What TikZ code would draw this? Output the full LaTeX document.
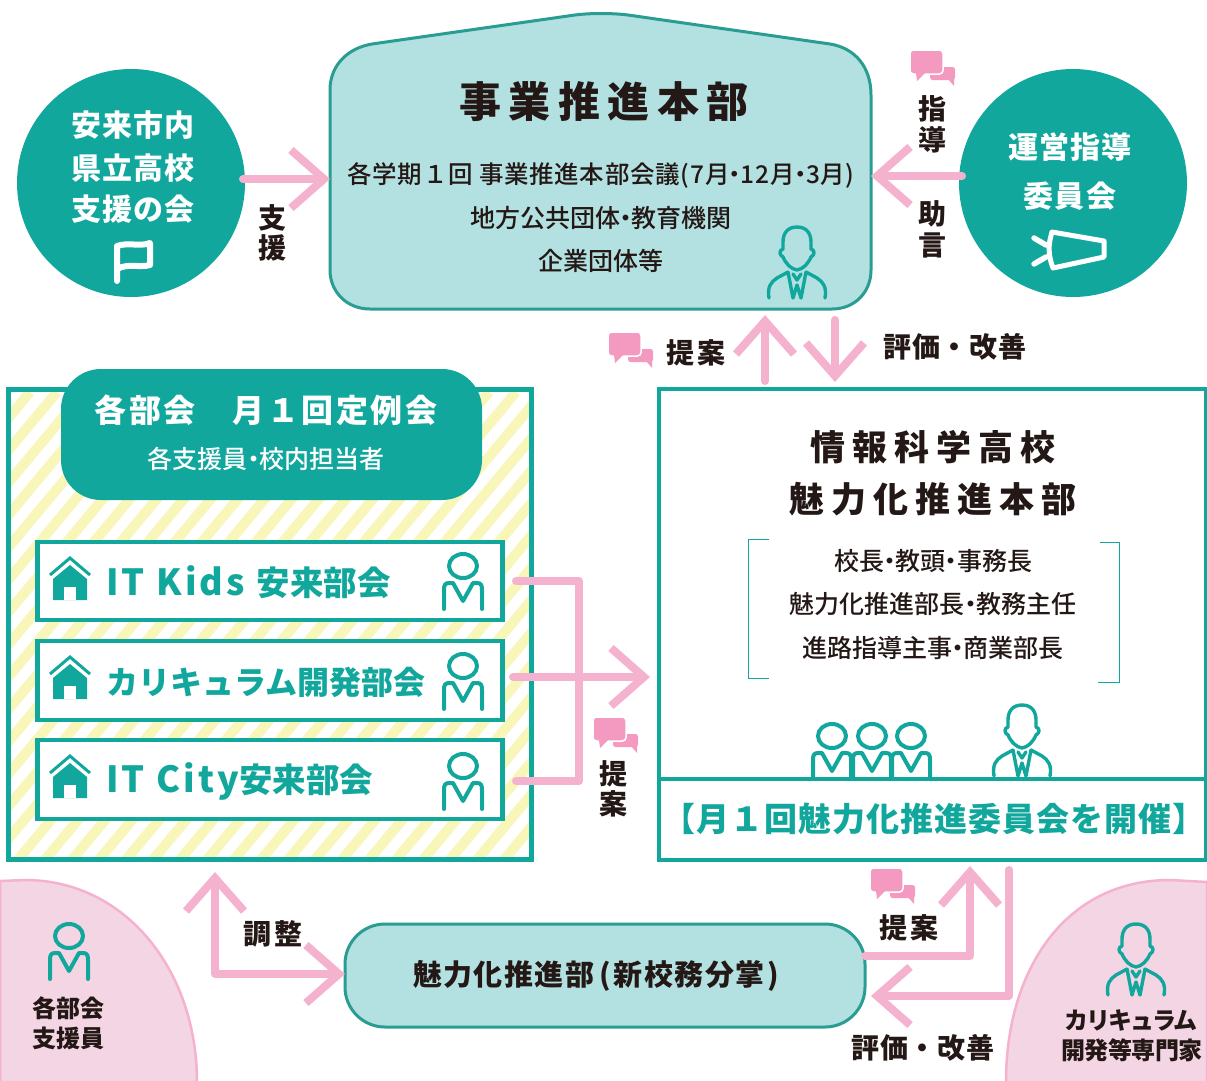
\documentclass[tikz,border=0pt]{standalone}
\usepackage{fontspec}
\usetikzlibrary{arrows.meta}
\setmainfont{Noto Sans CJK JP}
\newfontfamily\hv{Noto Sans CJK JP Black}
\newfontfamily\md{Noto Sans CJK JP Medium}
\newcommand\nd{\hspace{-.27em}・\hspace{-.27em}}
\newcommand\reg[3]{\md\fontsize{#1}{#1}\selectfont\addfontfeature{LetterSpace=#2}#3}
\newcommand\bld[3]{\fontsize{#1}{#1}\selectfont\bfseries\addfontfeature{LetterSpace=#2}#3}
\newcommand\blk[3]{\hv\fontsize{#1}{#1}\selectfont\addfontfeature{LetterSpace=#2}#3}
\definecolor{teal1}{HTML}{12A79D}
\definecolor{teal2}{HTML}{2A9D92}
\definecolor{aqua}{HTML}{B3E0E0}
\definecolor{pinkl}{HTML}{F5B2CF}
\definecolor{pinkc}{HTML}{F49AC1}
\definecolor{pinkb}{HTML}{F4D5E4}
\definecolor{stripe}{HTML}{F9F6B9}
\definecolor{ink}{HTML}{231815}
\tikzset{
  x=1pt,y=-1pt,
  txt/.style={inner sep=0,outer sep=0,text=ink,anchor=center},
  wtxt/.style={inner sep=0,outer sep=0,text=white,anchor=center},
  ttxt/.style={inner sep=0,outer sep=0,text=teal1,anchor=center},
  band/.style={draw=teal1,line width=4.5pt,fill=white,inner sep=0,outer sep=0},
  pinkline/.style={draw=pinkl,line width=8pt,line join=round,line cap=round},
  barb/.style={-{Straight Barb[length=33pt,width=58pt,line width=8pt,line join=miter,line cap=butt]}},
  barbb/.style={{Straight Barb[length=33pt,width=58pt,line width=8pt,line join=miter,line cap=butt]}-{Straight Barb[length=33pt,width=58pt,line width=8pt,line join=miter,line cap=butt]}},
  pics/person/.style={code={
    \draw[teal1,line width=4pt,line cap=round,line join=round]
      (0,0) ellipse [x radius=14pt,y radius=12pt]
      (-19,43)--(-19,24) .. controls (-19,19) and (-18,17) .. (-14,17)--(-10,17)--(0,35)--(10,17)--(14,17) .. controls (18,17) and (19,19) .. (19,24)--(19,43);
  }},
  pics/suitman/.style={code={
    \draw[teal1,line width=3.4pt,line join=round,line cap=round]
      (0,0) .. controls (10,0) and (14,7) .. (14,15) -- (14,22) .. controls (18,23) and (18,28) .. (14,30) .. controls (11,37) and (6,42) .. (0,43)
      .. controls (-6,42) and (-11,37) .. (-14,30) .. controls (-18,28) and (-18,23) .. (-14,22) -- (-14,15) .. controls (-14,7) and (-10,0) .. (0,0)
      (-28,71) .. controls (-30,60) and (-26,55) .. (-20,51) -- (-9,45)
      (28,71) .. controls (30,60) and (26,55) .. (20,51) -- (9,45)
      (-9,45) -- (-4,71) -- (0,58) -- (4,71) -- (9,45)
      (-4,47) -- (0,53) -- (4,47);
  }},
  pics/chat/.style={code={
    \fill[pinkc,rounded corners=2.5pt] (20,17) rectangle (45,30);
    \fill[pinkc] (38,29) -- (44,36) -- (44,29) -- cycle;
    \fill[pinkc,draw=white,line width=1.5pt,rounded corners=3.5pt] (0,0) rectangle (33,24);
    \fill[pinkc] (6,23) -- (7,31) -- (15,23) -- cycle;
  }},
  pics/house/.style={code={
    \draw[teal1,line width=3pt] (-20,17) -- (0,0) -- (20,17);
    \fill[teal1] (0,7) -- (17,21) -- (17,42) -- (-17,42) -- (-17,21) -- cycle;
    \fill[white] (-6,29) rectangle (6,42);
  }},
}
\begin{document}
\begin{tikzpicture}
\useasboundingbox (0,0) rectangle (1207,1080);
\fill[white] (0,0) rectangle (1207,1080);

% pink corners
\filldraw[fill=pinkb,draw=pinkl,line width=2.5pt] (0,881) -- (25,880) .. controls (125,880) and (197,970) .. (197,1082) -- (0,1082) -- cycle;
\filldraw[fill=pinkb,draw=pinkl,line width=2.5pt] (1207,882) -- (1170,880) .. controls (1065,880) and (1006,970) .. (1006,1082) -- (1207,1082) -- cycle;

% top house
\filldraw[fill=aqua,draw=teal2,line width=3pt]
 (330,90) .. controls (330,65) and (348,48) .. (372,44) -- (575,15) .. controls (590,13) and (612,13) .. (628,15) -- (830,44)
 .. controls (855,48) and (871,67) .. (871,95) -- (871,270) .. controls (871,292) and (855,309) .. (832,309) -- (370,309)
 .. controls (347,309) and (330,292) .. (330,270) -- cycle;
\node[inner sep=0,outer sep=0,minimum width=541pt,minimum height=265pt] (honbu) at (600.5,176.5) {};
\node[txt] (t1) at (604,102) {\blk{42}{18}{事業推進本部}};
\node[txt] (t2) at (601,175) {\reg{24.5}{3}{各学期１回 事業推進本部会議(7月\nd 12月\nd 3月)}};
\node[txt] (t3) at (601,218) {\reg{25}{0}{地方公共団体\nd 教育機関}};
\node[txt] (t4) at (601,261) {\reg{25}{0}{企業団体等}};
\pic at (797,227) {suitman};

% circles
\node[circle,fill=teal1,minimum size=228pt,inner sep=0,outer sep=0] (cl) at (131,183) {};
\node[circle,fill=teal1,minimum size=228pt,inner sep=0,outer sep=0] (cr) at (1073,183) {};
\node[wtxt] (cl1) at (133,125) {\blk{30}{4}{安来市内}};
\node[wtxt] (cl2) at (133,168) {\blk{30}{4}{県立高校}};
\node[wtxt] (cl3) at (133,209) {\blk{30}{4}{支援の会}};
\draw[white,line width=6pt,line cap=round,line join=round] (117,281) -- (117,246) .. controls (128,242) and (140,247) .. (150,243) -- (150,265) .. controls (140,268) and (128,263) .. (117,269);
\node[wtxt] (cr1) at (1070,147) {\blk{30}{4}{運営指導}};
\node[wtxt] (cr2) at (1070,196) {\blk{30}{4}{委員会}};
\draw[white,line width=5pt,line cap=round,line join=round] (1052,232) .. controls (1048,245) and (1048,255) .. (1053,268) -- (1104,257) -- (1104,241) -- cycle;
\draw[white,line width=5.5pt,line cap=round] (1034,238) -- (1046,245) (1034,264) -- (1046,257);

% left panel
\node[draw=teal1,line width=5pt,fill=white,inner sep=0,outer sep=0,minimum width=523pt,minimum height=470pt] (panel) at (270,624.5) {};
\begin{scope}
\clip (10,391) rectangle (530,858);
\foreach \s in {-416,-389,...,540} \draw[stripe,line width=10pt] (\s,862) -- (\s+392,392);
\end{scope}
\draw[teal1,line width=5pt] (panel.north west) rectangle (panel.south east);
\node[fill=teal1,rounded corners=40pt,minimum width=421pt,minimum height=131pt,inner sep=0,outer sep=0] (tab) at (271.5,434.5) {};
\node[wtxt] (tab1) at (266,410) {\blk{32}{8}{各部会　月１回定例会}};
\node[wtxt] (tab2) at (266,459) {\reg{25}{0}{各支援員\nd 校内担当者}};

\node[band,minimum width=465pt,minimum height=78pt] (b1) at (270,581) {};
\node[band,minimum width=465pt,minimum height=79pt] (b2) at (270,680.5) {};
\node[band,minimum width=465pt,minimum height=79pt] (b3) at (270,779.5) {};
\node[ttxt,anchor=west] (b1t) at (106,582) {\blk{36}{9}{IT Kids }\blk{33.5}{0}{安来部会}};
\node[ttxt,anchor=west] (b2t) at (106,682) {\blk{32}{0}{カリキュラム開発部会}};
\node[ttxt,anchor=west] (b3t) at (106,781) {\blk{36}{9}{IT City}\blk{33.5}{0}{安来部会}};
\pic at (70,558) {house};
\pic at (70,657) {house};
\pic at (70,756) {house};
\pic at (463,566) {person};
\pic at (463,666) {person};
\pic at (463,766) {person};

% right panel
\node[draw=teal1,line width=4pt,fill=white,inner sep=0,outer sep=0,minimum width=547pt,minimum height=471pt] (rpanel) at (932.5,624.5) {};
\coordinate (dl) at (rpanel.west |- 0,779);
\coordinate (dr) at (rpanel.east |- 0,779);
\draw[teal1,line width=4pt] (dl) -- (dr);
\node[txt] (r1) at (933,447) {\blk{35}{20}{情報科学高校}};
\node[txt] (r2) at (933,499) {\blk{35}{20}{魅力化推進本部}};
\draw[teal1,line width=1pt] (769,539) -- (748,539) -- (748,678) -- (769,678);
\draw[teal1,line width=1pt] (1100,542) -- (1119,542) -- (1119,682) -- (1098,682);
\node[txt] (r3) at (933,561) {\reg{25}{0}{校長\nd 教頭\nd 事務長}};
\node[txt] (r4) at (933,604) {\reg{25}{0}{魅力化推進部長\nd 教務主任}};
\node[txt] (r5) at (933,648) {\reg{25}{0}{進路指導主事\nd 商業部長}};
\pic at (832,736) {person};
\pic at (872,736) {person};
\pic at (911,736) {person};
\pic at (1022,705) {suitman};
\node[ttxt] (r6) at (934,819) {\blk{33}{3}{【月１回魅力化推進委員会を開催】}};

% bottom box
\node[draw=teal2,fill=aqua,line width=3pt,rounded corners=40pt,minimum width=520pt,minimum height=103pt,inner sep=0,outer sep=0] (bot) at (605,975.5) {};
\node[txt,anchor=west] (bott) at (413,976) {\blk{29}{5}{魅力化推進部\hspace{5pt}(\hspace{3pt}新校務分掌\hspace{3pt})}};

% corner texts
\pic at (69,936) {person};
\node[txt] (pl1) at (68,1008) {\blk{24}{0}{各部会}};
\node[txt] (pl2) at (68,1038) {\blk{24}{0}{支援員}};
\pic at (1136,924) {suitman};
\node[txt] (pr1) at (1131,1020) {\blk{24}{-8}{カリキュラム}};
\node[txt] (pr2) at (1132,1050) {\blk{24}{-2}{開発等専門家}};

% connectors
\coordinate (a1) at (243,179);
\coordinate (a1e) at (honbu.west |- 0,179);
\draw[pinkline,barb] (a1) -- (a1e);
\coordinate (a2) at (962,176);
\coordinate (a2e) at (871,176);
\draw[pinkline,barb] (a2) -- (a2e);
\coordinate (a3) at (765,381);
\coordinate (a3e) at (765,315);
\draw[pinkline,barb] (a3) -- (a3e);
\coordinate (a4) at (835,320);
\coordinate (a4e) at (835,382);
\draw[pinkline,barb] (a4) -- (a4e);
\coordinate (e1) at (516,581);
\coordinate (e2) at (516,781);
\coordinate (e3) at (579,581);
\coordinate (e4) at (579,781);
\draw[pinkline] (e1) -- (e3) -- (e4) -- (e2);
\coordinate (e5) at (513,677);
\coordinate (e6) at (650,677);
\draw[pinkline,barb] (e5) -- (e6);
\coordinate (f1) at (215,872);
\coordinate (f2) at (215,974);
\coordinate (f3) at (bot.west |- 0,974);
\draw[pinkline,barbb] (f1) -- (f2) -- (f3);
\coordinate (g1) at (bot.east |- 0,956);
\coordinate (g2) at (970,956);
\coordinate (g3) at (970,866);
\draw[pinkline,barb] (g1) -- (g2) -- (g3);
\coordinate (h1) at (1009,870);
\coordinate (h2) at (1009,996);
\coordinate (h3) at (871,996);
\draw[pinkline,barb] (h1) -- (h2) -- (h3);

% labels
\node[txt] (l1) at (272,218) {\bld{28}{0}{支}};
\node[txt] (l2) at (272,248) {\bld{28}{0}{援}};
\node[txt] (l3) at (932,109) {\bld{28}{0}{指}};
\node[txt] (l4) at (932,140) {\bld{28}{0}{導}};
\node[txt] (l5) at (932,214) {\bld{28}{0}{助}};
\node[txt] (l6) at (932,245) {\bld{28}{0}{言}};
\node[txt] (l7) at (696,353) {\bld{28}{8}{提案}};
\node[txt] (l8) at (955,347) {\bld{28}{2}{評価・改善}};
\node[txt] (l9) at (613,774) {\bld{28}{0}{提}};
\node[txt] (l10) at (613,804) {\bld{28}{0}{案}};
\node[txt] (l11) at (273,934) {\bld{28}{8}{調整}};
\node[txt] (l12) at (909,928) {\bld{28}{8}{提案}};
\node[txt] (l13) at (923,1048) {\bld{28}{2}{評価・改善}};

% chat icons
\pic at (910,50) {chat};
\pic at (608,332) {chat};
\pic at (593,717) {chat};
\pic at (870,868) {chat};
\end{tikzpicture}
\end{document}
